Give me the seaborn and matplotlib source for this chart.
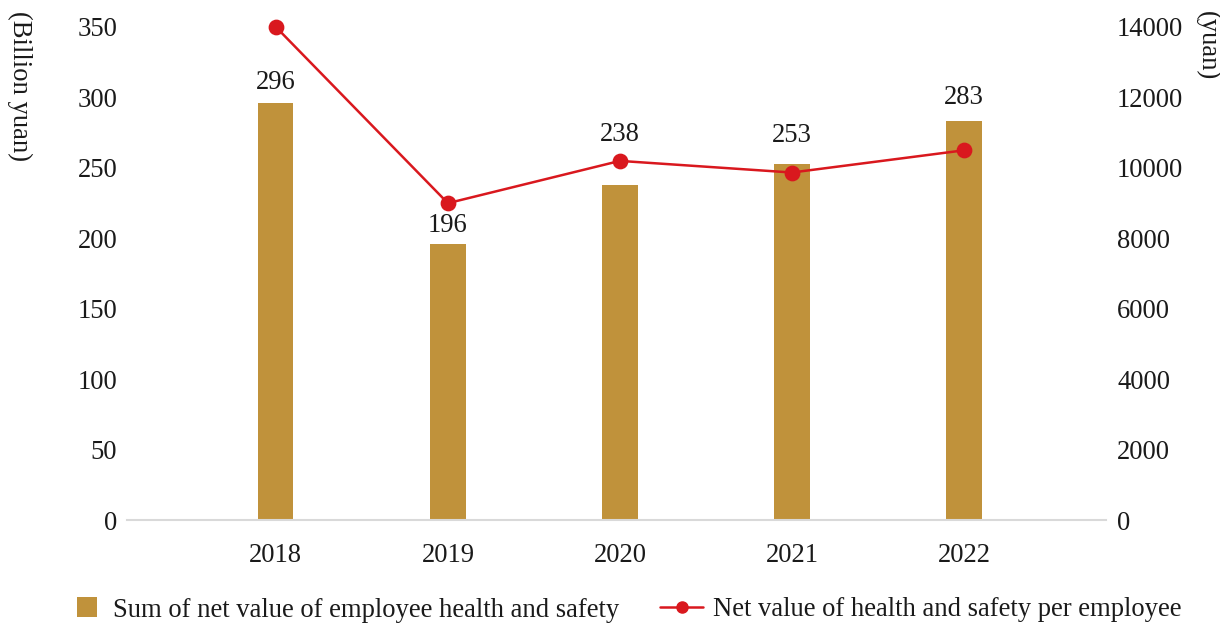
import matplotlib
matplotlib.use("Agg")
import matplotlib.pyplot as plt
from matplotlib.patches import Patch
from matplotlib.lines import Line2D
import seaborn as sns
import pandas as pd

years = ["2018", "2019", "2020", "2021", "2022"]
total_net_value = [296, 196, 238, 253, 283]          # billion yuan
per_employee_value = [14000, 9000, 10200, 9870, 10500]  # yuan

bar_label = "Sum of net value of employee health and safety"
line_label = "Net value of health and safety per employee"
left_unit = "(Billion yuan)"
right_unit = "(yuan)"

bar_color = "#C0923B"
line_color = "#D9181E"
text_color = "#1a1a1a"
fs = 19.2

sns.set_theme(style="white")
plt.rcParams["font.family"] = ["Liberation Serif", "DejaVu Serif"]
plt.rcParams["text.color"] = text_color

df = pd.DataFrame({"year": years, "total": total_net_value, "per_emp": per_employee_value})

fig = plt.figure(figsize=(12.2, 6.26), dpi=100)
ax = fig.add_axes([0.104, 0.1688, 0.8026, 0.7881])

sns.barplot(data=df, x="year", y="total", ax=ax, color=bar_color,
            width=0.205, saturation=1, edgecolor="none")

ax2 = ax.twinx()
sns.pointplot(data=df, x="year", y="per_emp", ax=ax2, color=line_color,
              markers="o", linestyles="-", markersize=10, linewidth=1.8)
# keep the top marker whole where it touches the upper limit
for artist in list(ax2.lines) + list(ax2.collections):
    artist.set_clip_on(False)

for a in (ax, ax2):
    a.set_xlim(-0.866, 4.826)
    for s in a.spines.values():
        s.set_visible(False)
    a.grid(False)
    a.set_xlabel("")
    a.set_ylabel("")

ax.set_ylim(0, 350)
ax.set_yticks(range(0, 351, 50))
ax2.set_ylim(0, 14000)
ax2.set_yticks(range(0, 14001, 2000))

ax.spines["bottom"].set_visible(True)
ax.spines["bottom"].set_color("#d9d9d9")
ax.spines["bottom"].set_linewidth(1.5)

ax.tick_params(axis="y", length=0, pad=7, labelsize=fs, labelcolor=text_color)
ax.tick_params(axis="x", length=0, pad=16, labelsize=fs, labelcolor=text_color)
ax2.tick_params(axis="y", length=0, pad=8, labelsize=fs, labelcolor=text_color)

# value labels above bars; the 2020 label is lifted clear of the line
label_gap_pt = [14.5, 13.5, 36.5, 20, 17]
for i, v in enumerate(total_net_value):
    ax.annotate(f"{v}", xy=(i, v), xytext=(0, label_gap_pt[i]), textcoords="offset points",
                ha="center", va="center", fontsize=fs, color=text_color)

# axis unit labels, rotated and placed at the top corners
fig.text(20 / 1220, 1 - 11 / 626, left_unit, rotation=-90, ha="center", va="top",
         fontsize=fs, color=text_color)
fig.text(1207 / 1220, 1 - 11 / 626, right_unit, rotation=-90, ha="center", va="top",
         fontsize=fs, color=text_color)

# legend entries
leg1 = fig.legend(handles=[Patch(facecolor=bar_color, edgecolor="none")], labels=[bar_label],
                  loc="center left", bbox_to_anchor=(77 / 1220, 1 - 610 / 626),
                  frameon=False, fontsize=fs, borderpad=0, borderaxespad=0,
                  handlelength=0.75, handleheight=0.75, handletextpad=0.6)
leg2 = fig.legend(handles=[Line2D([0], [0], color=line_color, lw=1.8, marker="o", markersize=8)],
                  labels=[line_label],
                  loc="center left", bbox_to_anchor=(660 / 1220, 1 - 610 / 626),
                  frameon=False, fontsize=fs, borderpad=0, borderaxespad=0,
                  handlelength=1.62, handletextpad=0.38)

fig.savefig("out.png", dpi=100)
